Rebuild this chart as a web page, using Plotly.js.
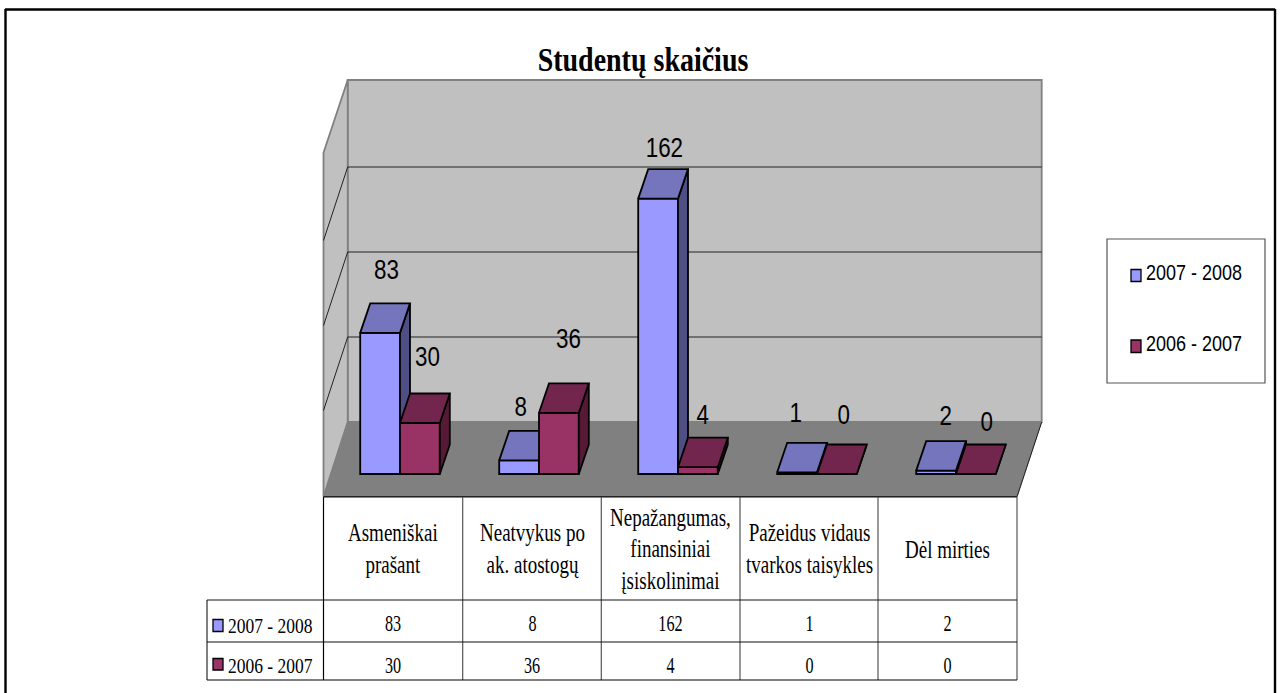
<!DOCTYPE html>
<html><head><meta charset="utf-8">
<script src="https://cdn.plot.ly/plotly-3.0.1.min.js"></script>
<style>html,body{margin:0;padding:0;background:#fff;overflow:hidden}</style>
</head><body><div id="chart" style="width:1281px;height:693px"></div>
<script>
const chartTitle = 'Studentų skaičius';
const categories = ['Asmeniškai<br>prašant','Neatvykus po<br>ak. atostogų','Nepažangumas,<br>finansiniai<br>įsiskolinimai','Pažeidus vidaus<br>tvarkos taisykles','Dėl mirties'];
const seriesNames = ['2007 - 2008','2006 - 2007'];
const values2007 = [83,8,162,1,2];
const values2006 = [30,36,4,0,0];
const gridValues = [0,50,100,150,200];

// styling
const W=1281,H=693;
const catPx=139, originPx=400, zeroPx=474, unitPx=1.70;
const X=p=>(p-originPx)/catPx, Y=p=>(zeroPx-p)/unitPx;
const barW=39.8/catPx, depthX=10/catPx, depthY=29.5/unitPx;
const colors=[{front:'#9999FF',top:'#7575BD',side:'#4F4F85'},{front:'#993366',top:'#73264D',side:'#561A37'}];
const serif='"Liberation Serif", serif', sans='"Liberation Sans", sans-serif';
const labelShift=[[[6,63],[2,54],[6,51],[-1,60],[10,55]],[[8,67],[10,74],[5,53],[7,60],[11,53]]];

const xs=categories.map((_,i)=>i);
const allVals=[values2007,values2006];
const traces=[];
const edge={color:'#000',width:1.8};
allVals.forEach((vals,s)=>{
  const ya=s===0?'y':'y2';
  const off=s===0?-barW:0, c=colors[s];
  traces.push({type:'bar',x:xs,y:vals,width:barW,offset:off,xaxis:'x',yaxis:ya,name:seriesNames[s],
    marker:{color:c.front,line:edge},hoverinfo:'y+name'});
  const sx=[],sy=[],tx=[],ty=[];
  vals.forEach((v,i)=>{
    const l=i+off,r=l+barW;
    sx.push(r,r+depthX,r+depthX,r,r,null); sy.push(0,depthY,v+depthY,v,0,null);
    tx.push(l,r,r+depthX,l+depthX,l,null); ty.push(v,v,v+depthY,v+depthY,v,null);
  });
  traces.push({type:'scatter',mode:'lines',x:sx,y:sy,fill:'toself',fillcolor:c.side,xaxis:'x',yaxis:ya,line:edge,hoverinfo:'skip',showlegend:false});
  traces.push({type:'scatter',mode:'lines',x:tx,y:ty,fill:'toself',fillcolor:c.top,xaxis:'x',yaxis:ya,line:edge,hoverinfo:'skip',showlegend:false});
});

const poly=(pts,fill,line,w)=>({type:'path',xref:'x',yref:'y',layer:'below',
  path:pts.map((p,i)=>(i?'L':'M')+X(p[0])+','+Y(p[1])).join(' ')+(fill?' Z':''),
  fillcolor:fill||'rgba(0,0,0,0)',line:{color:line,width:w}});
const seg=(a,b,c,d,col,w,layer)=>({type:'line',xref:'x',yref:'y',layer:layer||'below',x0:X(a),y0:Y(b),x1:X(c),y1:Y(d),line:{color:col,width:w}});
const box=(a,b,c,d,fill,col,w)=>({type:'rect',xref:'x',yref:'y',layer:'below',x0:X(a),y0:Y(b),x1:X(c),y1:Y(d),fillcolor:fill,line:{color:col,width:w}});

const shapes=[];
const bL=347.7,bR=1041.7,fL=323.5,fR=1017,bBot=422,fBot=496.7,bTop=80,fTop=152.7;
shapes.push(box(bL,bTop,bR,bBot,'#C0C0C0','#808080',1.8));
shapes.push(poly([[fL,fTop],[bL,bTop],[bL,bBot],[fL,fBot]],'#C0C0C0','#808080',1.8));
gridValues.slice(1,-1).forEach(g=>{
  const y=bBot-g*unitPx;
  shapes.push(seg(bL,y,bR,y,'#222',1));
  shapes.push(seg(bL,y,fL,y+73.5,'#222',1));
});
shapes.push(poly([[fL,fBot],[fR,fBot],[bR,bBot],[bL,bBot]],'#808080','#808080',1));
shapes.push(seg(fL,fBot,fR,fBot,'#222',1.5));
shapes.push(seg(fR,fBot,bR,bBot,'#222',1));

// data table
const tRows=[497,600,642,680], tLeft=207;
const colX=[323.5,462.7,601.3,740,878,1017];
colX.forEach((x,i)=>shapes.push(seg(x,tRows[0],x,tRows[3],(i===0)?'#000':'#555',1.2)));
shapes.push(seg(tLeft,tRows[1],fR,tRows[1],'#111',1));
shapes.push(seg(tLeft,tRows[2],fR,tRows[2],'#111',1));
shapes.push(seg(tLeft,tRows[3],fR,tRows[3],'#000',1.2));
shapes.push(seg(tLeft,tRows[1],tLeft,tRows[3],'#000',1));
shapes.push(box(213,619.5,223,631.5,colors[0].front,'#000',1.3));
shapes.push(box(213,658.5,223,670,colors[1].front,'#000',1.3));

// legend
shapes.push(box(1107,239,1265,383,'#FFFFFF','#555',1.2));
shapes.push(box(1131,269.5,1141,281.5,colors[0].front,'#000',1.3));
shapes.push(box(1131,340,1141,352.5,colors[1].front,'#000',1.3));

// outer frame
shapes.push(seg(5,9.5,1275,9.5,'#000',2.4,'above'));
shapes.push(seg(5.5,9,5.5,H+5,'#000',2.4,'above'));
shapes.push(seg(1275,9,1275,H+5,'#000',2.4,'above'));

// each annotation has a horizontal/vertical glyph stretch, applied after drawing
const stretch=[];
const txt=(px,py,text,font,size,anchor,sx,sy)=>{stretch.push([sx||1,sy||1]);
  return {xref:'x',yref:'y',x:X(px),y:Y(py),text:String(text),showarrow:false,
  xanchor:anchor||'center',yanchor:'middle',align:'center',font:{family:font,size:size,color:'#000'}};};
const ann=[];
allVals.forEach((vals,s)=>{
  const off=s===0?-barW/2:barW/2;
  vals.forEach((v,i)=>{stretch.push([0.8,1]);ann.push({xref:'x',yref:'y',x:i+off,y:v,text:String(v),showarrow:false,
    xanchor:'center',yanchor:'middle',xshift:labelShift[s][i][0],yshift:labelShift[s][i][1],
    font:{family:sans,size:28,color:'#000'}});});
});
categories.forEach((c,i)=>{
  const cx=(colX[i]+colX[i+1])/2;
  ann.push(txt(cx,549,c,serif,19,'center',1,1.27));
  ann.push(txt(cx,623,values2007[i],serif,18,'center',0.9,1.3));
  ann.push(txt(cx,665,values2006[i],serif,18,'center',0.9,1.3));
});
ann.push(txt(226,626,seriesNames[0],serif,17.5,'left',1,1.25));
ann.push(txt(226,666,seriesNames[1],serif,17.5,'left',1,1.25));
ann.push(txt(1144,273,seriesNames[0],sans,18,'left',1,1.2));
ann.push(txt(1144,344,seriesNames[1],sans,18,'left',1,1.2));

const layout={width:W,height:H,autosize:false,margin:{l:0,r:0,t:0,b:0,pad:0},paper_bgcolor:'#fff',plot_bgcolor:'#fff',
  showlegend:false,barmode:'overlay',
  title:{text:'<b>'+chartTitle+'</b>',x:643/W,xanchor:'center',y:1-59/H,yanchor:'middle',font:{family:serif,size:28,color:'#000'}},
  xaxis:{range:[X(0),X(W)],visible:false,fixedrange:true},
  yaxis:{range:[Y(H),Y(0)],visible:false,fixedrange:true},
  yaxis2:{range:[Y(H),Y(0)],visible:false,overlaying:'y',fixedrange:true},
  shapes:shapes,annotations:ann};

function squeeze(el,sx,sy){
  const b=el.getBBox(),cx=b.x+b.width/2,cy=b.y+b.height/2;
  el.setAttribute('transform',`translate(${cx},${cy}) scale(${sx},${sy}) translate(${-cx},${-cy})`);
}
Plotly.newPlot('chart',traces,layout,{displayModeBar:false}).then(()=>{
  document.querySelectorAll('#chart .annotation[data-index]').forEach(g=>{
    const i=+g.getAttribute('data-index'),t=g.querySelector('text');
    if(t&&stretch[i])squeeze(t,stretch[i][0],stretch[i][1]);
  });
  const tt=document.querySelector('#chart .gtitle');
  if(tt)squeeze(tt,1,1.2);
});
</script></body></html>
